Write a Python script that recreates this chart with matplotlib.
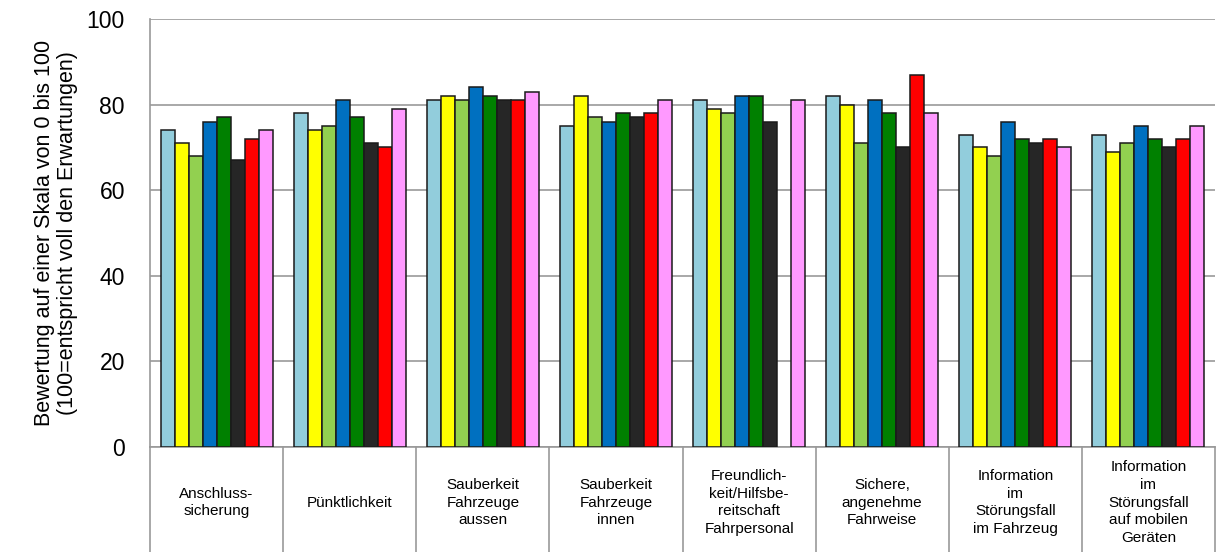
import matplotlib
matplotlib.use("Agg")
import matplotlib.pyplot as plt
import matplotlib.transforms as mtransforms
import numpy as np

plt.rcParams['font.family'] = ['Liberation Sans', 'DejaVu Sans']

categories = [
    "Anschluss-\nsicherung",
    "Pünktlichkeit",
    "Sauberkeit\nFahrzeuge\naussen",
    "Sauberkeit\nFahrzeuge\ninnen",
    "Freundlich-\nkeit/Hilfsbe-\nreitschaft\nFahrpersonal",
    "Sichere,\nangenehme\nFahrweise",
    "Information\nim\nStörungsfall\nim Fahrzeug",
    "Information\nim\nStörungsfall\nauf mobilen\nGeräten",
]

s1_lightblue = [74, 78, 81, 75, 81, 82, 73, 73]
s2_yellow    = [71, 74, 82, 82, 79, 80, 70, 69]
s3_lightgreen= [68, 75, 81, 77, 78, 71, 68, 71]
s4_blue      = [76, 81, 84, 76, 82, 81, 76, 75]
s5_green     = [77, 77, 82, 78, 82, 78, 72, 72]
s6_black     = [67, 71, 81, 77, 76, 70, 71, 70]
s7_red       = [72, 70, 81, 78, np.nan, 87, 72, 72]
s8_pink      = [74, 79, 83, 81, 81, 78, 70, 75]

series = [s1_lightblue, s2_yellow, s3_lightgreen, s4_blue, s5_green, s6_black, s7_red, s8_pink]
colors = ["#92CDDC", "#FFFF00", "#92D050", "#0070C0", "#008000", "#262626", "#FF0000", "#FF99FF"]

yticks = [0, 20, 40, 60, 80, 100]
ylabel = "Bewertung auf einer Skala von 0 bis 100\n(100=entspricht voll den Erwartungen)"

fig = plt.figure(figsize=(12.19, 5.52), dpi=100)
ax = fig.add_axes([150/1219, 105/552, (1215-150)/1219, (447-19)/552])

n = len(series)
ncat = len(categories)
x = np.arange(ncat)
w = 1.0 / (n + 1.5)
for i, (vals, c) in enumerate(zip(series, colors)):
    offs = (i - (n - 1) / 2) * w
    ax.bar(x + offs, vals, width=w, color=c, edgecolor="#1a1a1a", linewidth=1.1, zorder=3)

ax.set_xlim(-0.5, ncat - 0.5)
ax.set_ylim(0, 100)
ax.set_yticks(yticks)
ax.set_yticklabels([str(t) for t in yticks], fontsize=16.5)
ax.tick_params(axis='y', length=0, pad=18)
ax.set_xticks([])
ax.yaxis.grid(True, color="#999999", linewidth=1.2, zorder=0)
ax.set_axisbelow(True)
for s in ['top', 'right']:
    ax.spines[s].set_visible(False)
for s in ['left', 'bottom']:
    ax.spines[s].set_color("#999999")
    ax.spines[s].set_linewidth(1.2)

ax.set_ylabel(ylabel, fontsize=15.5, labelpad=6, linespacing=1.15)

trans = mtransforms.blended_transform_factory(ax.transData, ax.transAxes)
for b in np.arange(ncat + 1) - 0.5:
    ax.plot([b, b], [0, -0.3], transform=trans, color="#999999", linewidth=1.2, clip_on=False)
for xi, lab in zip(x, categories):
    ax.text(xi, -0.13, lab, transform=trans, ha='center', va='center',
            multialignment='center', fontsize=11, linespacing=1.33, clip_on=False)

fig.savefig("out.png", dpi=100)
